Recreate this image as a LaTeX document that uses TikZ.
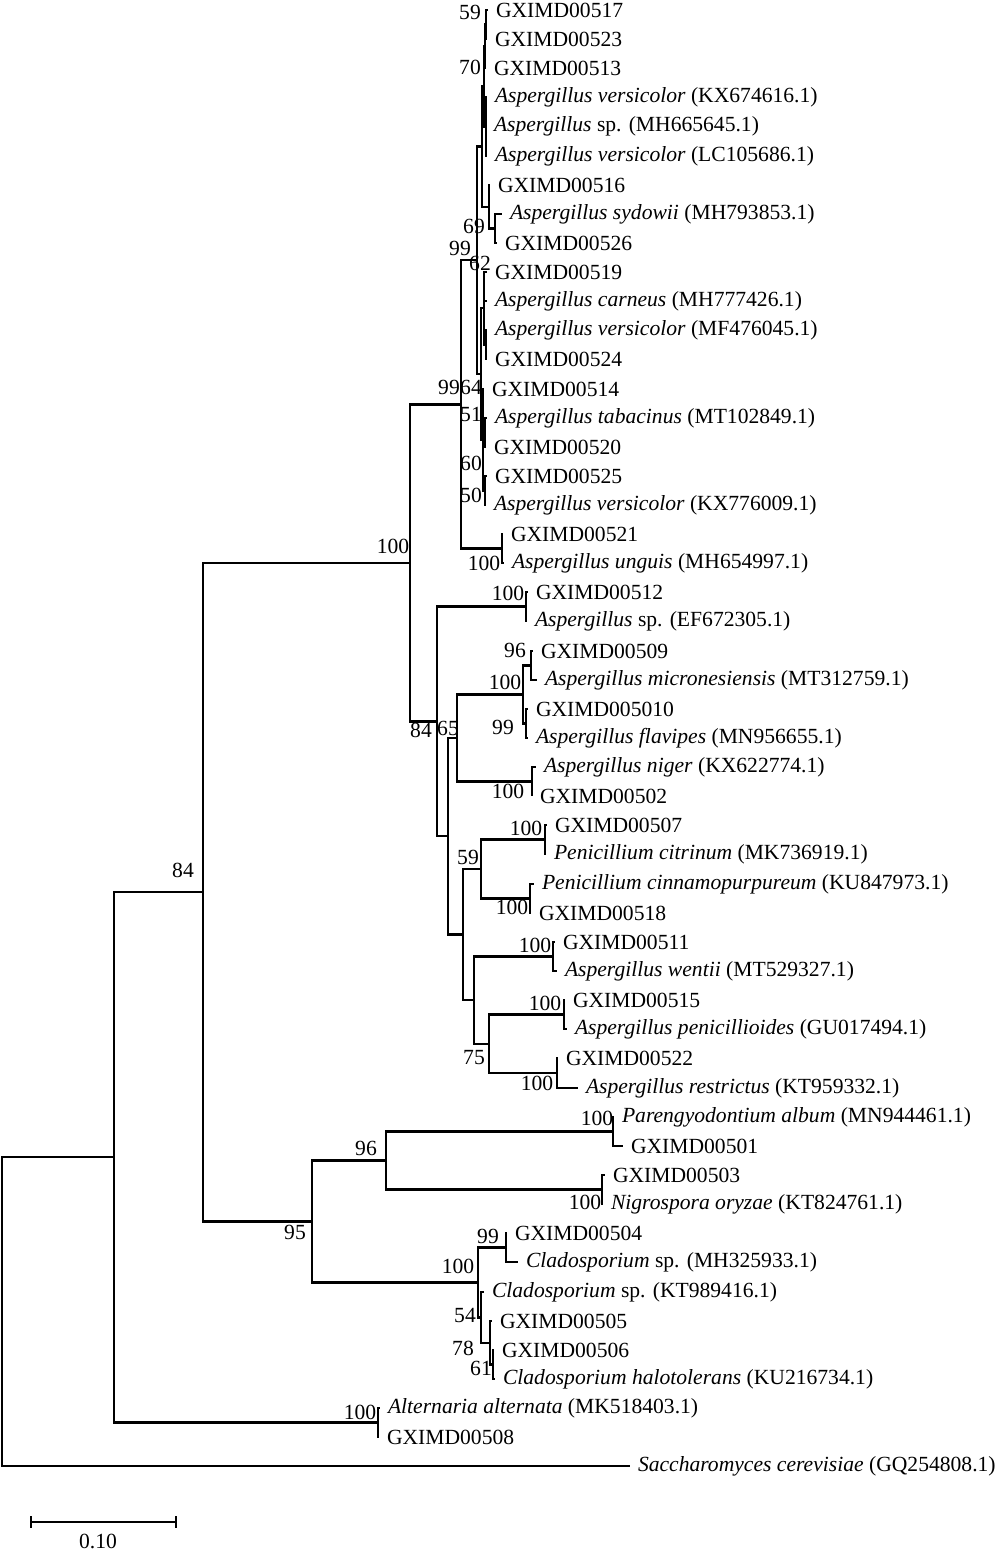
\documentclass[tikz,border=0pt]{standalone}
\usepackage{fontspec}
\setmainfont{Liberation Serif}

\begin{document}
\begin{tikzpicture}[x=0.5pt,y=-0.5pt,line join=miter,
  branch/.style={line width=1.15pt},
  taxon/.style={anchor=west,inner xsep=4pt,inner ysep=0pt,outer sep=0pt,font=\fontsize{10.8}{12}\selectfont},
  boot/.style={inner sep=0pt,font=\fontsize{10.8}{12}\selectfont}]
\useasboundingbox (0,0) rectangle (1000,1554);
% taxa
\node[taxon] (l1) at (488,10) {GXIMD00517};
\node[taxon] (l2) at (487,39) {GXIMD00523};
\node[taxon] (l3) at (486,68) {GXIMD00513};
\node[taxon] (l4) at (487,97) {\textit{Aspergillus versicolor} (KX674616.1)};
\node[taxon] (l5) at (486,126) {\textit{Aspergillus} sp. (MH665645.1)};
\node[taxon] (l6) at (487,156) {\textit{Aspergillus versicolor} (LC105686.1)};
\node[taxon] (l7) at (490,185) {GXIMD00516};
\node[taxon] (l8) at (502,214) {\textit{Aspergillus sydowii} (MH793853.1)};
\node[taxon] (l9) at (497,243) {GXIMD00526};
\node[taxon] (l10) at (487,272) {GXIMD00519};
\node[taxon] (l11) at (487,301) {\textit{Aspergillus carneus} (MH777426.1)};
\node[taxon] (l12) at (487,330) {\textit{Aspergillus versicolor} (MF476045.1)};
\node[taxon] (l13) at (487,359) {GXIMD00524};
\node[taxon] (l14) at (484,389) {GXIMD00514};
\node[taxon] (l15) at (487,418) {\textit{Aspergillus tabacinus} (MT102849.1)};
\node[taxon] (l16) at (486,447) {GXIMD00520};
\node[taxon] (l17) at (487,476) {GXIMD00525};
\node[taxon] (l18) at (486,505) {\textit{Aspergillus versicolor} (KX776009.1)};
\node[taxon] (l19) at (503,534) {GXIMD00521};
\node[taxon] (l20) at (504,563) {\textit{Aspergillus unguis} (MH654997.1)};
\node[taxon] (l21) at (528,592) {GXIMD00512};
\node[taxon] (l22) at (527,621) {\textit{Aspergillus} sp. (EF672305.1)};
\node[taxon] (l23) at (533,651) {GXIMD00509};
\node[taxon] (l24) at (537,680) {\textit{Aspergillus micronesiensis} (MT312759.1)};
\node[taxon] (l25) at (528,709) {GXIMD005010};
\node[taxon] (l26) at (528,738) {\textit{Aspergillus flavipes} (MN956655.1)};
\node[taxon] (l27) at (536,767) {\textit{Aspergillus niger} (KX622774.1)};
\node[taxon] (l28) at (532,796) {GXIMD00502};
\node[taxon] (l29) at (547,825) {GXIMD00507};
\node[taxon] (l30) at (546,854) {\textit{Penicillium citrinum} (MK736919.1)};
\node[taxon] (l31) at (534,884) {\textit{Penicillium cinnamopurpureum} (KU847973.1)};
\node[taxon] (l32) at (531,913) {GXIMD00518};
\node[taxon] (l33) at (555,942) {GXIMD00511};
\node[taxon] (l34) at (557,971) {\textit{Aspergillus wentii} (MT529327.1)};
\node[taxon] (l35) at (565,1000) {GXIMD00515};
\node[taxon] (l36) at (567,1029) {\textit{Aspergillus penicillioides} (GU017494.1)};
\node[taxon] (l37) at (558,1058) {GXIMD00522};
\node[taxon] (l38) at (578,1088) {\textit{Aspergillus restrictus} (KT959332.1)};
\node[taxon] (l39) at (614,1117) {\textit{Parengyodontium album} (MN944461.1)};
\node[taxon] (l40) at (623,1146) {GXIMD00501};
\node[taxon] (l41) at (605,1175) {GXIMD00503};
\node[taxon] (l42) at (603,1204) {\textit{Nigrospora oryzae} (KT824761.1)};
\node[taxon] (l43) at (507,1233) {GXIMD00504};
\node[taxon] (l44) at (518,1262) {\textit{Cladosporium} sp. (MH325933.1)};
\node[taxon] (l45) at (484,1292) {\textit{Cladosporium} sp. (KT989416.1)};
\node[taxon] (l46) at (492,1321) {GXIMD00505};
\node[taxon] (l47) at (494,1350) {GXIMD00506};
\node[taxon] (l48) at (495,1379) {\textit{Cladosporium halotolerans} (KU216734.1)};
\node[taxon] (l49) at (380,1408) {\textit{Alternaria alternata} (MK518403.1)};
\node[taxon] (l50) at (379,1437) {GXIMD00508};
\node[taxon] (l51) at (630,1466) {\textit{Saccharomyces cerevisiae} (GQ254808.1)};
% internal nodes
\coordinate (n59a) at (486,24.5);
\coordinate (n70) at (485,46);
\coordinate (nvers) at (486,126.5);
\coordinate (nup1) at (484,86);
\coordinate (n69) at (495,228.5);
\coordinate (n69a) at (489,207);
\coordinate (nup) at (482,146.5);
\coordinate (n62c) at (486,344.5);
\coordinate (n62) at (484,308.3);
\coordinate (n51) at (485,432.5);
\coordinate (n60) at (485,490.5);
\coordinate (n64) at (483,439.8);
\coordinate (nlow) at (481,374);
\coordinate (n99b) at (477,260.3);
\coordinate (nung) at (502,548.5);
\coordinate (n99a) at (461,404.4);
\coordinate (n512) at (526,606.5);
\coordinate (n96a) at (531,665.5);
\coordinate (n99c) at (526,723.5);
\coordinate (n100c) at (523,694.5);
\coordinate (nnig) at (532,781.5);
\coordinate (n65) at (457,738);
\coordinate (n507) at (545,839.5);
\coordinate (n518) at (530,898.5);
\coordinate (n59b) at (481,869);
\coordinate (n511) at (553,956.5);
\coordinate (n515) at (564,1014.5);
\coordinate (n522) at (557,1073);
\coordinate (n75) at (489,1043.8);
\coordinate (n474) at (474,1000.1);
\coordinate (n463) at (463,934.6);
\coordinate (n448) at (448,836.3);
\coordinate (n84b) at (437,721.4);
\coordinate (n100b) at (410,562.9);
\coordinate (npar) at (613,1131.5);
\coordinate (n503) at (602,1189.5);
\coordinate (n96b) at (386,1160.5);
\coordinate (n99d) at (506,1247.5);
\coordinate (n61) at (493,1364.5);
\coordinate (n78) at (490,1342.8);
\coordinate (n54) at (481,1317.4);
\coordinate (n100d) at (478,1282.4);
\coordinate (n95) at (312,1221.5);
\coordinate (n100a) at (203,892.2);
\coordinate (nalt) at (378,1422.5);
\coordinate (n84a) at (114,1157.3);
\coordinate (root) at (2,1311.7);
% branches
\foreach \p/\c in {n70/n59a,nup1/n70,nup1/nvers,n69a/n69,nup/nup1,nup/n69a,
  n62/n62c,n64/n51,n64/n60,nlow/n62,nlow/n64,n99b/nup,n99b/nlow,
  n99a/n99b,n99a/nung,n100c/n96a,n100c/n99c,n65/n100c,n65/nnig,
  n59b/n507,n59b/n518,n75/n515,n75/n522,n474/n511,n474/n75,
  n463/n59b,n463/n474,n448/n65,n448/n463,n84b/n512,n84b/n448,
  n100b/n99a,n100b/n84b,n96b/npar,n96b/n503,n78/n61,n54/n78,
  n100d/n99d,n100d/n54,n95/n96b,n95/n100d,n100a/n100b,n100a/n95,
  n84a/n100a,n84a/nalt,root/n84a}
  \draw[branch] (\p) |- (\c);
\foreach \p/\c in {n59a/l1,n59a/l2,n70/l3,nvers/l4,nvers/l5,nvers/l6,
  n69a/l7,n69/l8,n69/l9,n62/l10,n62/l11,n62c/l12,n62c/l13,
  n64/l14,n51/l15,n51/l16,n60/l17,n60/l18,nung/l19,nung/l20,
  n512/l21,n512/l22,n96a/l23,n96a/l24,n99c/l25,n99c/l26,nnig/l27,nnig/l28,
  n507/l29,n507/l30,n518/l31,n518/l32,n511/l33,n511/l34,n515/l35,n515/l36,
  n522/l37,n522/l38,npar/l39,npar/l40,n503/l41,n503/l42,n99d/l43,n99d/l44,
  n54/l45,n78/l46,n61/l47,n61/l48,nalt/l49,nalt/l50,root/l51}
  \draw[branch] (\p) |- (\c.west);
% bootstrap values
\node[boot] at (470,12) {59};
\node[boot] at (470,67) {70};
\node[boot] at (474,226) {69};
\node[boot] at (460,248) {99};
\node[boot] at (480,263) {62};
\node[boot] at (449,387) {99};
\node[boot] at (471,387) {64};
\node[boot] at (471,414) {51};
\node[boot] at (471,463) {60};
\node[boot] at (471,495) {50};
\node[boot] at (484,563) {100};
\node[boot] at (393,546) {100};
\node[boot] at (508,593) {100};
\node[boot] at (515,650) {96};
\node[boot] at (505,682) {100};
\node[boot] at (503,727) {99};
\node[boot] at (421,730) {84};
\node[boot] at (448,728) {65};
\node[boot] at (508,791) {100};
\node[boot] at (526,828) {100};
\node[boot] at (468,857) {59};
\node[boot] at (512,907) {100};
\node[boot] at (535,945) {100};
\node[boot] at (545,1003) {100};
\node[boot] at (474,1058) {75};
\node[boot] at (537,1083) {100};
\node[boot] at (597,1118) {100};
\node[boot] at (366,1148) {96};
\node[boot] at (585,1202) {100};
\node[boot] at (295,1232) {95};
\node[boot] at (488,1236) {99};
\node[boot] at (458,1266) {100};
\node[boot] at (465,1315) {54};
\node[boot] at (463,1348) {78};
\node[boot] at (481,1368) {61};
\node[boot] at (360,1412) {100};
\node[boot] at (183,870) {84};
% scale bar
\coordinate (sbl) at (31,1522);
\coordinate (sbr) at (176,1522);
\draw[branch] (sbl) -- (sbr);
\draw[branch] (sbl) ++(0,-6) -- ++(0,12);
\draw[branch] (sbr) ++(0,-6) -- ++(0,12);
\node[boot] (sblab) at (98,1541) {0.10};
\end{tikzpicture}
\end{document}
